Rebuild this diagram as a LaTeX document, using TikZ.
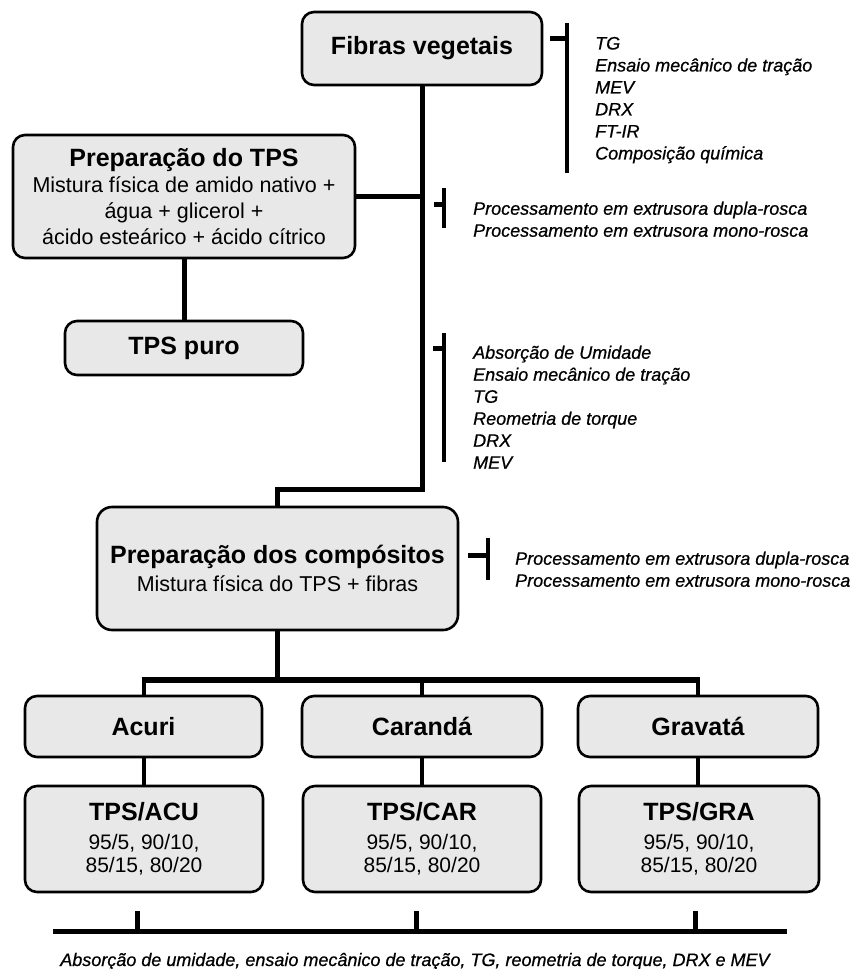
\documentclass[tikz,border=0pt]{standalone}
\usepackage{fontspec}
\setmainfont{Liberation Sans}
\newcommand\myTitle{\fontsize{25}{28}\selectfont\bfseries}
\newcommand\myBody{\fontsize{21.5}{26}\selectfont}
\newcommand\myBodyB{\fontsize{21}{23}\selectfont}
\newcommand\myList{\fontsize{18}{22}\selectfont\itshape\addfontfeature{FakeBold=0.7}}
\definecolor{boxfill}{HTML}{E8E8E8}
\begin{document}
\begin{tikzpicture}[x=1pt,y=-1pt,
  box/.style={draw=black, line width=2.6pt, fill=boxfill, rounded corners=12pt, align=center, inner sep=0pt},
  conn/.style={line width=5pt},
  linkS/.style={line width=4pt},
  distr/.style={line width=6pt},
  brk/.style={line width=4pt},
  tickmark/.style={line width=5pt},
  listtext/.style={anchor=north west, inner sep=0pt, align=left, font=\myList}
]
\useasboundingbox (0,0) rectangle (855,969);

% boxes
\node[box, minimum width=240pt, minimum height=73pt, font=\myTitle] (fib) at (422,48.5) {Fibras vegetais};
\node[box, minimum width=342pt, minimum height=123pt, font=\myBody] (tps) at (184,196.5)
  {{\myTitle Preparação do TPS}\\Mistura física de amido nativo +\\água + glicerol +\\ácido esteárico + ácido cítrico};
\node[box, minimum width=238pt, minimum height=54pt, font=\myTitle] (puro) at (184,348) {TPS puro};
\node[box, minimum width=361pt, minimum height=123pt, rounded corners=15pt, font=\myBody] (comp) at (277.5,568.5)
  {{\myTitle Preparação dos compósitos}\\[1.5pt]Mistura física do TPS + fibras};

\node[box, minimum width=237pt, minimum height=61pt, font=\myTitle] (acuri) at (143.5,726.5) {Acuri};
\node[box, minimum width=240pt, minimum height=61pt, font=\myTitle] (caranda) at (422,726.5) {Carandá};
\node[box, minimum width=240pt, minimum height=61pt, font=\myTitle] (gravata) at (698,726.5) {Gravatá};

\node[box, minimum width=238pt, minimum height=106pt, font=\myBodyB] (acu) at (144,839)
  {{\myTitle TPS/ACU}\\[5.5pt]95/5, 90/10,\\85/15, 80/20};
\node[box, minimum width=238pt, minimum height=106pt, font=\myBodyB] (car) at (422,839)
  {{\myTitle TPS/CAR}\\[5.5pt]95/5, 90/10,\\85/15, 80/20};
\node[box, minimum width=240pt, minimum height=106pt, font=\myBodyB] (gra) at (699,839)
  {{\myTitle TPS/GRA}\\[5.5pt]95/5, 90/10,\\85/15, 80/20};

% lists
\node[listtext] (lA) at (595,36.7) {TG\\Ensaio mecânico de tração\\MEV\\DRX\\FT-IR\\Composição química};
\node[listtext] (lB) at (473,201.5) {Processamento em extrusora dupla-rosca\\Processamento em extrusora mono-rosca};
\node[listtext] (lC) at (473,345.5) {Absorção de Umidade\\Ensaio mecânico de tração\\TG\\Reometria de torque\\DRX\\MEV};
\node[listtext] (lD) at (515,551.5) {Processamento em extrusora dupla-rosca\\Processamento em extrusora mono-rosca};
\node[anchor=base, inner sep=0pt, font=\myList] (lE) at (415,966) {Absorção de umidade, ensaio mecânico de tração, TG, reometria de torque, DRX e MEV};

% main connectors
\coordinate (bend) at (422,489);
\draw[conn] (fib.south) -- (bend) -| (comp.north);
\draw[conn] (tps.east) -- (tps.east -| fib.south);
\draw[conn] (tps.south) -- (puro.north);

\coordinate (dL) at (143.5,680);
\coordinate (dR) at (698,680);
\draw[conn] (comp.south) -- (comp.south |- dL);
\draw[distr] ([xshift=-2pt]dL) -- ([xshift=2pt]dR);
\draw[linkS] (dL) -- (acuri.north);
\draw[linkS] (caranda.north |- dL) -- (caranda.north);
\draw[linkS] (dR) -- (gravata.north);
\draw[linkS] (acuri.south) -- (acuri.south |- acu.north);
\draw[linkS] (caranda.south) -- (caranda.south |- car.north);
\draw[linkS] (gravata.south) -- (gravata.south |- gra.north);

% brackets
\coordinate (bA1) at (567,23);  \coordinate (bA2) at (567,173); \coordinate (tA) at (550,38);
\draw[brk] (bA1) -- (bA2); \draw[tickmark] (tA) -- (tA -| bA1);
\coordinate (bB1) at (444,188); \coordinate (bB2) at (444,228); \coordinate (tB) at (434,204);
\draw[brk] (bB1) -- (bB2); \draw[tickmark] (tB) -- (tB -| bB1);
\coordinate (bC1) at (444,333); \coordinate (bC2) at (444,462); \coordinate (tC) at (433,348);
\draw[brk] (bC1) -- (bC2); \draw[tickmark] (tC) -- (tC -| bC1);
\coordinate (bD1) at (488,538); \coordinate (bD2) at (488,580); \coordinate (tD) at (468,555);
\draw[brk] (bD1) -- (bD2); \draw[tickmark] (tD) -- (tD -| bD1);

% bottom bar
\coordinate (eL) at (53,931); \coordinate (eR) at (787,931);
\draw[conn] (eL) -- (eR);
\coordinate (k1) at (137,911); \coordinate (k2) at (416,911); \coordinate (k3) at (695,911);
\draw[conn] (k1) -- (k1 |- eL);
\draw[conn] (k2) -- (k2 |- eL);
\draw[conn] (k3) -- (k3 |- eL);
\end{tikzpicture}
\end{document}
